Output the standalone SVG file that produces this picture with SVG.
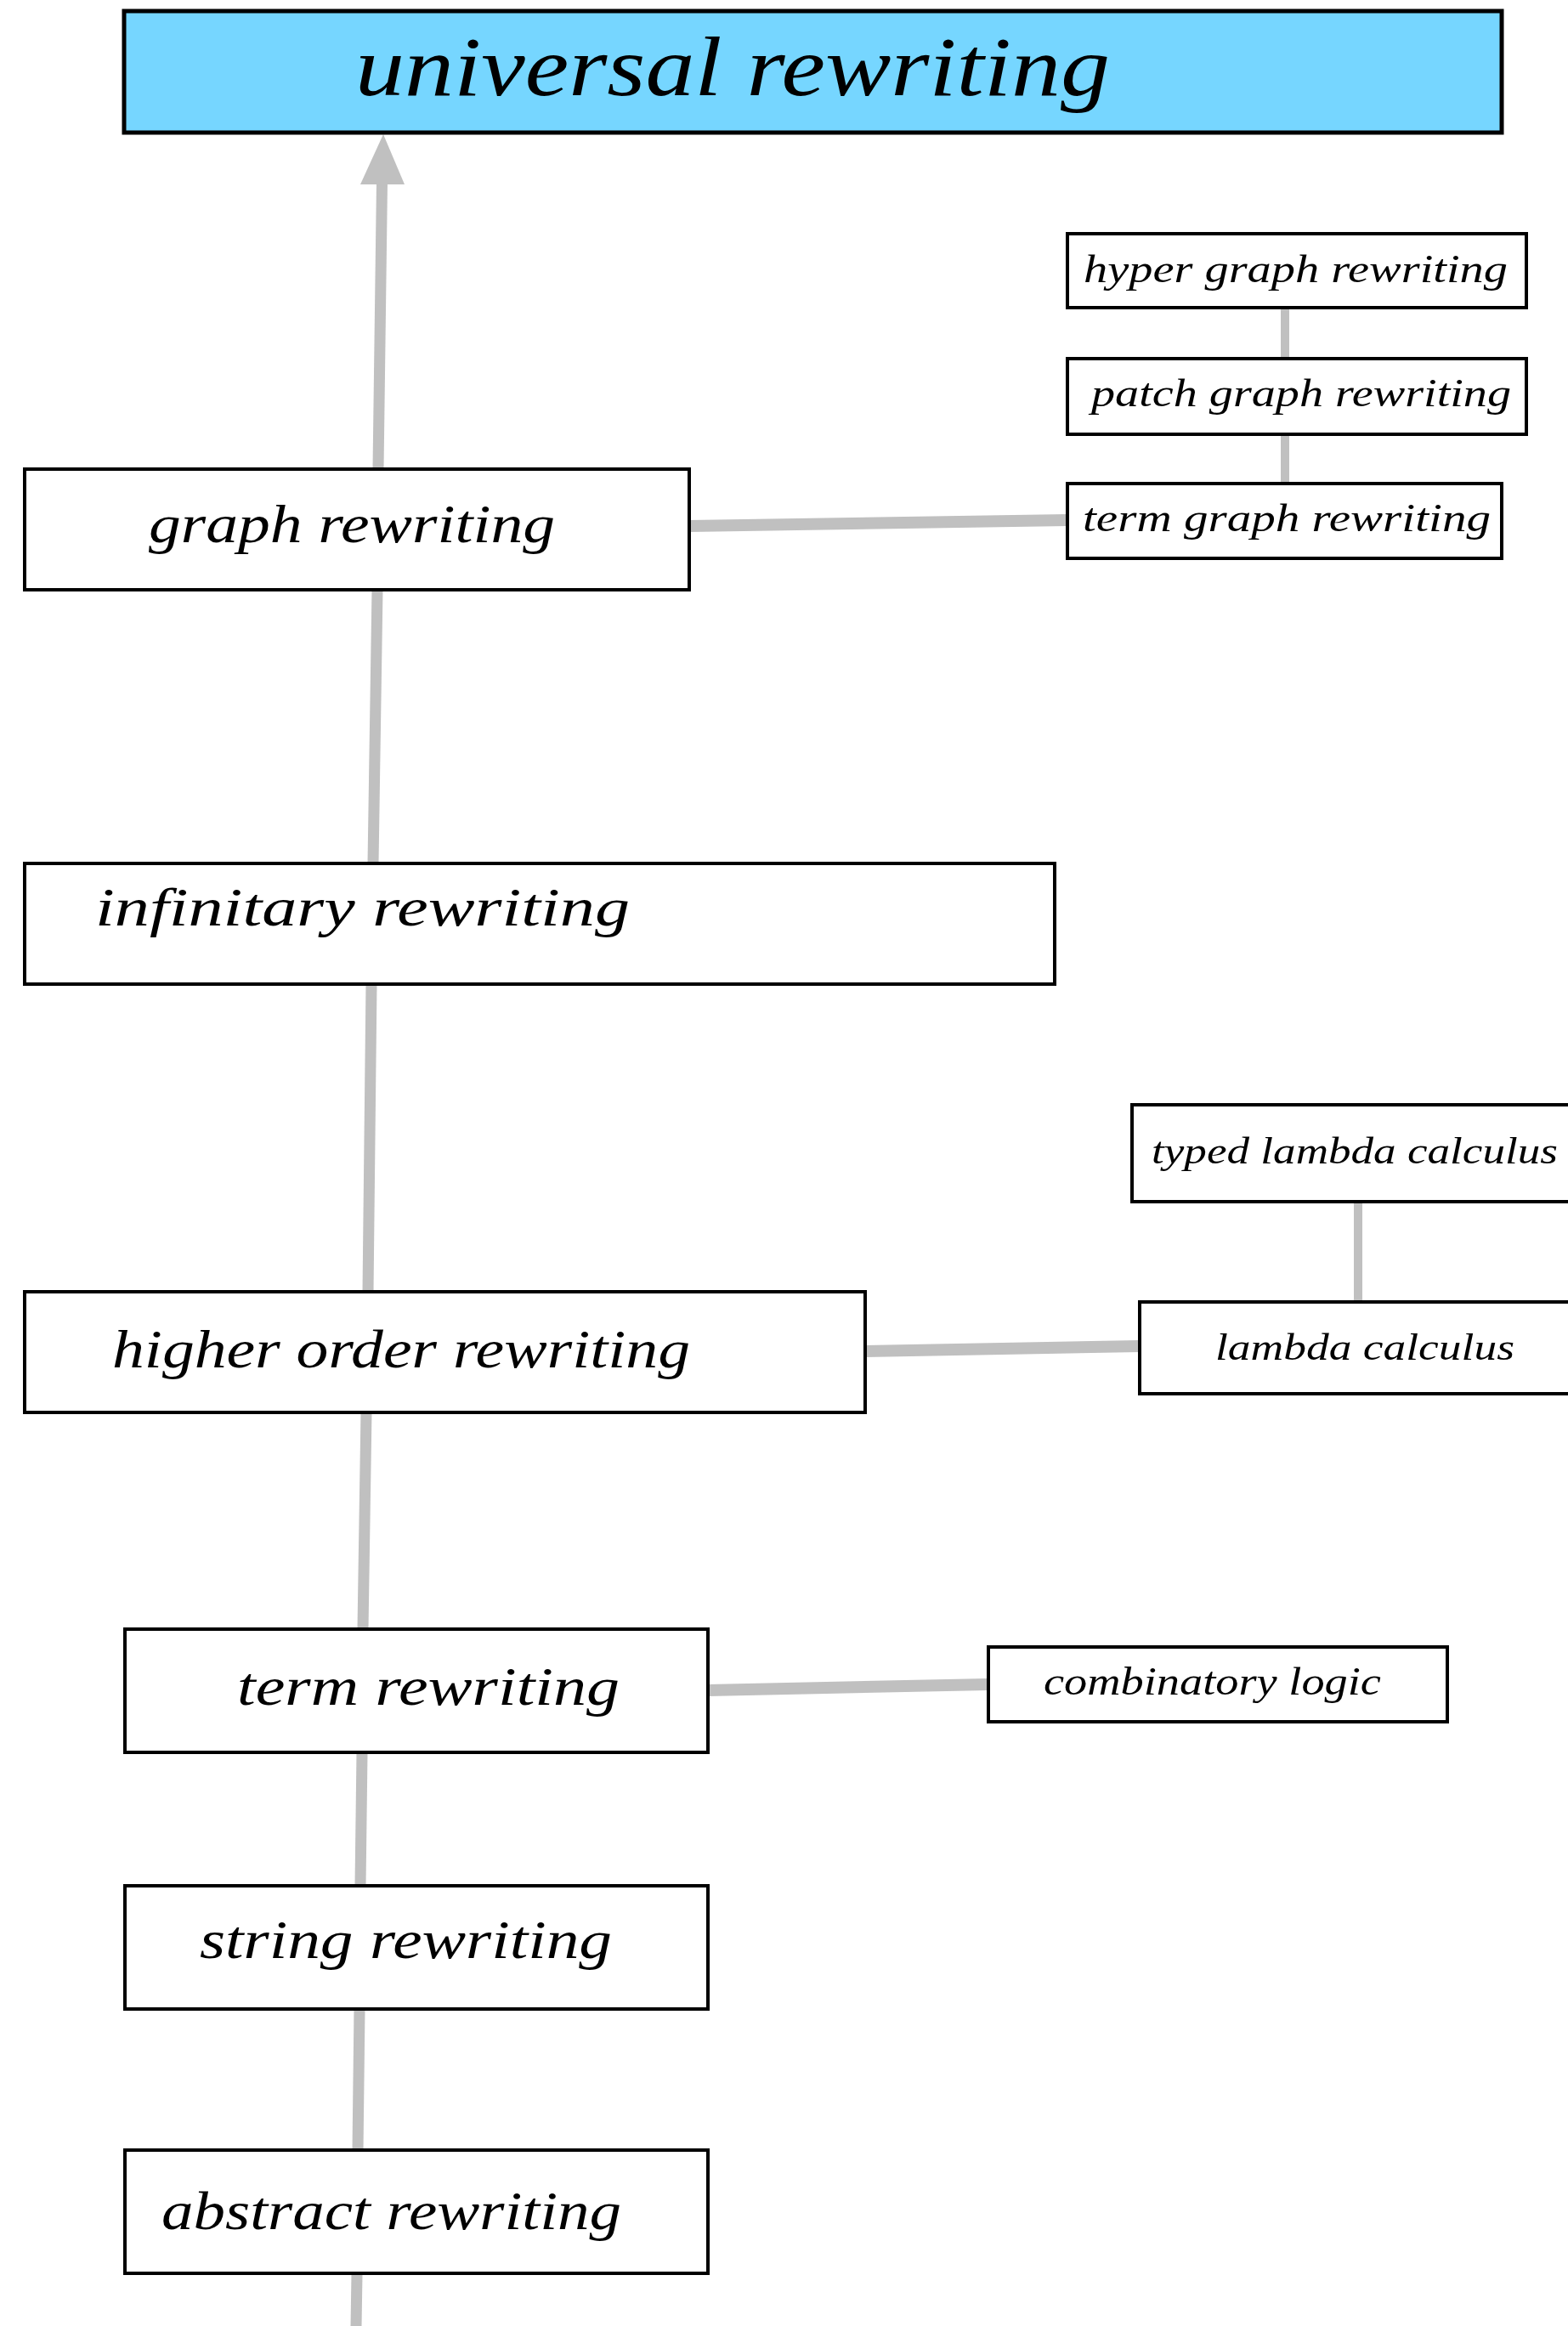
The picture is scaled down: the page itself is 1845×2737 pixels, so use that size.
<svg xmlns="http://www.w3.org/2000/svg" width="1845" height="2737" viewBox="0 0 1845 2737">
  <style>
    .box { fill: #ffffff; stroke: #000000; stroke-width: 4; }
    .root { fill: #76d6ff; stroke: #000000; stroke-width: 5; }
    .lbl { font-family: "Liberation Serif", "DejaVu Serif", serif; font-style: italic; fill: #000000; }
    .big { font-size: 64px; }
    .small { font-size: 47px; }
    .tiny { font-size: 44px; }
    .spine { stroke: #c0c0c0; stroke-width: 13; fill: none; }
    .side { stroke: #c0c0c0; stroke-width: 14; fill: none; }
    .thin { stroke: #c0c0c0; stroke-width: 10; fill: none; }
  </style>

  <!-- connectors -->
  <g id="connectors">
    <line class="spine" x1="419" y1="2737" x2="420" y2="2676"/>
    <line class="spine" x1="421" y1="2530" x2="423" y2="2364"/>
    <line class="spine" x1="424" y1="2219" x2="426" y2="2062"/>
    <line class="spine" x1="427" y1="1917" x2="431" y2="1662"/>
    <line class="spine" x1="433" y1="1520" x2="437" y2="1158"/>
    <line class="spine" x1="439" y1="1016" x2="444" y2="694"/>
    <line class="spine" x1="445" y1="552" x2="449.5" y2="214"/>
    <polygon points="451,158 424,217 476,217" fill="#c0c0c0"/>

    <line class="side" x1="811" y1="619" x2="1256" y2="612"/>
    <line class="side" x1="1018" y1="1590" x2="1341" y2="1584"/>
    <line class="side" x1="833" y1="1989" x2="1163" y2="1982"/>

    <line class="thin" x1="1512" y1="362" x2="1512" y2="422"/>
    <line class="thin" x1="1512" y1="511" x2="1512" y2="569"/>
    <line class="thin" x1="1598" y1="1414" x2="1598" y2="1532"/>
  </g>

  <!-- main chain of rewriting formalisms -->
  <g id="universal-rewriting">
    <rect class="root" x="146" y="13" width="1621" height="143"/>
    <text class="lbl" x="418" y="112" font-size="100" textLength="888" lengthAdjust="spacingAndGlyphs">universal rewriting</text>
  </g>
  <g id="graph-rewriting">
    <rect class="box" x="29" y="552" width="782" height="142"/>
    <text class="lbl big" x="175" y="638" textLength="478" lengthAdjust="spacingAndGlyphs">graph rewriting</text>
  </g>
  <g id="infinitary-rewriting">
    <rect class="box" x="29" y="1016" width="1212" height="142"/>
    <text class="lbl big" x="112" y="1089" textLength="629" lengthAdjust="spacingAndGlyphs">infinitary rewriting</text>
  </g>
  <g id="higher-order-rewriting">
    <rect class="box" x="29" y="1520" width="989" height="142"/>
    <text class="lbl big" x="132" y="1609" textLength="680" lengthAdjust="spacingAndGlyphs">higher order rewriting</text>
  </g>
  <g id="term-rewriting">
    <rect class="box" x="147" y="1917" width="686" height="145"/>
    <text class="lbl big" x="279" y="2006" textLength="450" lengthAdjust="spacingAndGlyphs">term rewriting</text>
  </g>
  <g id="string-rewriting">
    <rect class="box" x="147" y="2219" width="686" height="145"/>
    <text class="lbl big" x="235" y="2304" textLength="485" lengthAdjust="spacingAndGlyphs">string rewriting</text>
  </g>
  <g id="abstract-rewriting">
    <rect class="box" x="147" y="2530" width="686" height="145"/>
    <text class="lbl big" x="190" y="2623" textLength="541" lengthAdjust="spacingAndGlyphs">abstract rewriting</text>
  </g>

  <!-- graph rewriting variants -->
  <g id="hyper-graph-rewriting">
    <rect class="box" x="1256" y="275" width="540" height="87"/>
    <text class="lbl small" x="1275" y="332" textLength="499" lengthAdjust="spacingAndGlyphs">hyper graph rewriting</text>
  </g>
  <g id="patch-graph-rewriting">
    <rect class="box" x="1256" y="422" width="540" height="89"/>
    <text class="lbl small" x="1284" y="478" textLength="494" lengthAdjust="spacingAndGlyphs">patch graph rewriting</text>
  </g>
  <g id="term-graph-rewriting">
    <rect class="box" x="1256" y="569" width="511" height="88"/>
    <text class="lbl small" x="1274" y="625" textLength="480" lengthAdjust="spacingAndGlyphs">term graph rewriting</text>
  </g>

  <!-- lambda calculi -->
  <g id="typed-lambda-calculus">
    <rect class="box" x="1332" y="1300" width="540" height="114"/>
    <text class="lbl tiny" x="1355" y="1369" textLength="478" lengthAdjust="spacingAndGlyphs">typed lambda calculus</text>
  </g>
  <g id="lambda-calculus">
    <rect class="box" x="1341" y="1532" width="540" height="108"/>
    <text class="lbl tiny" x="1430" y="1600" textLength="352" lengthAdjust="spacingAndGlyphs">lambda calculus</text>
  </g>

  <!-- combinatory logic -->
  <g id="combinatory-logic">
    <rect class="box" x="1163" y="1938" width="540" height="88"/>
    <text class="lbl small" x="1228" y="1994" textLength="397" lengthAdjust="spacingAndGlyphs">combinatory logic</text>
  </g>
</svg>
